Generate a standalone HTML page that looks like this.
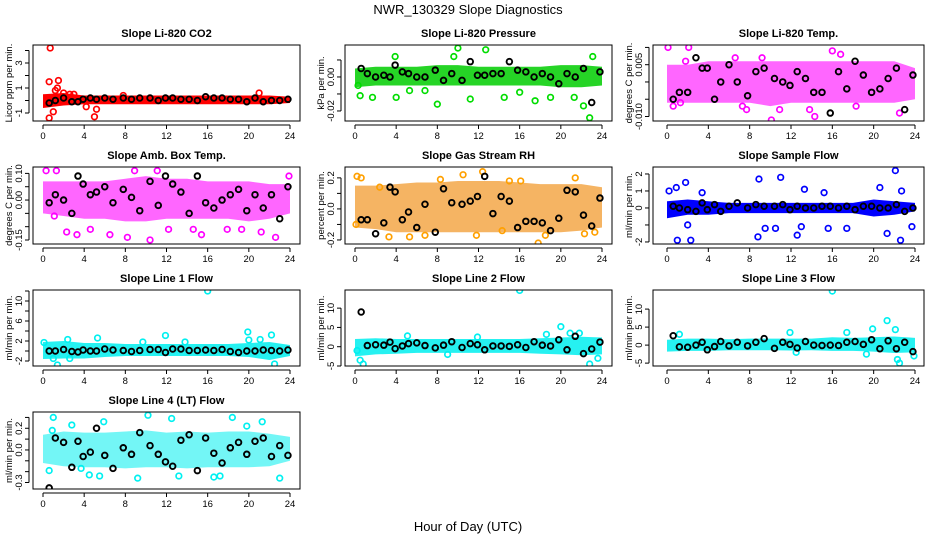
<!DOCTYPE html>
<html><head><meta charset="utf-8">
<style>
html,body{margin:0;padding:0;background:#fff;}
svg{display:block;font-family:"Liberation Sans",sans-serif;}
</style></head>
<body>
<svg id="chart" width="936" height="540" viewBox="0 0 936 540">
<rect width="936" height="540" fill="#fff"/>
<text x="468" y="14" text-anchor="middle" font-size="13">NWR_130329  Slope Diagnostics</text>
<text x="468" y="531" text-anchor="middle" font-size="13">Hour of Day (UTC)</text>
</svg>
<script>
// ---- shared data ----
const bandHours = [0,2,4,6,8,10,12,14,16,18,20,22,24];
const blackHours = [0.6,1.2,2,2.8,3.4,3.9,4.6,5.2,6,6.8,7.8,8.6,9.4,10.4,11.2,11.9,12.6,13.4,14.2,15,15.8,16.6,17.4,18.2,19,19.8,20.6,21.4,22.2,23,23.8];
const xTicks = [0,4,8,12,16,20,24];

// P1 CO2
const p1Lo = [-0.6,-0.4,-0.3,-0.3,-0.3,-0.3,-0.3,-0.3,-0.3,-0.3,-0.3,-0.3,-0.2];
const p1Hi = [0.5,0.6,0.4,0.4,0.4,0.4,0.4,0.4,0.4,0.4,0.4,0.4,0.3];
const p1OutX = [0.7,0.6,1.5,1.4,0.6,5.0,1.0,2.0,5.2,3.0,21.0,7.8,1.2,2.6,4.2];
const p1OutY = [4.2,1.5,1.6,1.0,-1.4,-1.3,-0.9,0.6,-0.7,0.5,0.6,0.4,0.8,0.5,-0.5];
const p1Black = [-0.2,0.0,0.2,-0.1,-0.1,0.1,0.2,0.1,0.2,0.1,0.2,0.1,0.2,0.2,0.0,0.2,0.2,0.1,0.1,0.0,0.3,0.2,0.2,0.1,0.1,-0.1,0.2,-0.1,0.0,0.0,0.1];
// P2 Pressure
const p2Lo = [-0.006,-0.005,-0.005,-0.005,-0.005,-0.005,-0.005,-0.005,-0.005,-0.005,-0.006,-0.006,-0.005];
const p2Hi = [0.005,0.006,0.006,0.006,0.007,0.007,0.006,0.006,0.006,0.006,0.007,0.007,0.006];
const p2OutX = [0.3,0.5,1.7,3.9,4.0,5.3,6.8,8.0,10.0,11.2,12.7,14.5,16.0,17.5,19.0,21.3,22.2,22.8,23.1,9.6];
const p2OutY = [-0.005,-0.011,-0.012,0.012,-0.012,-0.008,-0.008,-0.016,0.017,-0.013,0.016,-0.012,-0.009,-0.014,-0.012,-0.012,-0.017,-0.024,0.012,0.012];
const p2Black = [0.005,0.002,0.000,0.001,0.000,0.007,0.003,0.002,0.000,0.000,0.004,-0.002,0.002,-0.002,0.009,0.001,0.001,0.002,0.002,0.009,0.004,0.003,0.000,0.002,0.000,-0.004,0.002,0.000,0.005,-0.015,0.003];
// P3 Li-820 Temp
const p3Lo = [-0.006,-0.006,-0.006,-0.006,-0.006,-0.007,-0.006,-0.006,-0.006,-0.006,-0.006,-0.006,-0.005];
const p3Hi = [0.005,0.005,0.006,0.006,0.006,0.006,0.006,0.006,0.006,0.006,0.006,0.006,0.004];
const p3OutX = [0.1,0.6,2.1,1.3,7.3,7.7,10.1,10.9,13.8,14.3,16.0,16.8,18.3,22.5,1.8,9.2,6.6];
const p3OutY = [0.010,-0.007,0.010,-0.006,-0.007,-0.008,-0.011,-0.008,-0.008,-0.010,0.009,0.008,-0.007,-0.009,0.006,0.007,0.007];
const p3Black = [-0.005,-0.003,-0.003,0.007,0.004,0.004,-0.005,0.000,0.005,0.000,-0.004,0.003,0.004,0.001,0.000,-0.001,0.003,0.001,-0.003,-0.003,-0.009,0.003,-0.002,0.006,0.002,-0.003,-0.002,0.001,0.004,-0.008,0.002];
// P4 Amb Box Temp
const p4Lo = [-0.05,-0.06,-0.07,-0.07,-0.08,-0.08,-0.07,-0.07,-0.07,-0.07,-0.08,-0.07,-0.05];
const p4Hi = [0.07,0.07,0.07,0.07,0.08,0.09,0.08,0.08,0.07,0.07,0.07,0.06,0.06];
const p4OutX = [0.3,1.3,2.3,3.3,4.6,6.5,8.2,10.4,12.2,14.6,15.4,17.9,19.3,21.2,22.0,22.6,23.9,8.9,11.1,1.1];
const p4OutY = [0.11,0.11,-0.12,-0.13,-0.11,-0.13,-0.14,-0.15,-0.11,-0.11,-0.13,-0.11,-0.11,-0.12,-0.18,-0.14,0.09,0.11,0.11,-0.06];
const p4Black = [-0.01,0.02,0.00,-0.05,0.09,0.06,0.02,0.03,0.05,-0.01,0.04,0.01,-0.04,0.07,-0.02,0.09,0.06,0.03,-0.05,0.09,-0.01,-0.03,0.00,0.02,0.04,-0.04,0.02,-0.03,0.02,-0.07,0.05];
// P5 Gas stream RH
const p5Lo = [-0.12,-0.13,-0.15,-0.15,-0.15,-0.15,-0.15,-0.15,-0.15,-0.15,-0.15,-0.14,-0.12];
const p5Hi = [0.15,0.15,0.16,0.17,0.17,0.18,0.18,0.18,0.17,0.16,0.16,0.16,0.14];
const p5OutX = [0.2,0.6,3.3,5.3,6.8,8.3,10.5,11.8,12.4,14.3,15.0,16.1,17.8,18.5,21.4,22.3,23.3,0.1,2.4];
const p5OutY = [0.21,0.20,-0.18,-0.18,-0.17,0.19,0.22,-0.17,0.24,-0.14,0.18,0.18,-0.22,-0.17,0.20,-0.16,-0.15,-0.10,0.14];
const p5Black = [-0.07,-0.07,-0.16,-0.09,0.14,0.11,-0.07,-0.02,-0.12,0.03,-0.15,0.13,0.04,0.03,0.05,0.08,0.21,-0.03,0.08,0.05,-0.12,-0.08,-0.08,-0.09,-0.14,-0.06,0.12,0.11,-0.04,-0.11,0.07];
// P6 Sample flow
const p6Lo = [-0.6,-0.4,-0.4,-0.3,-0.3,-0.3,-0.3,-0.3,-0.3,-0.3,-0.5,-0.4,-0.2];
const p6Hi = [0.4,0.5,0.4,0.3,0.3,0.3,0.3,0.3,0.3,0.3,0.5,0.4,0.3];
const p6OutX = [0.2,1.0,2.3,1.8,2.0,3.4,8.9,8.8,10.5,11.0,12.6,13.3,13.0,15.2,15.6,17.4,20.6,21.3,22.1,22.6,22.7,23.7,0.9,9.5];
const p6OutY = [1.0,-1.9,-1.9,1.5,-1.0,0.9,1.7,-1.7,-1.2,1.8,-1.6,1.1,-1.1,0.9,-1.2,-1.2,1.2,-1.5,2.2,-1.9,1.0,-1.1,1.2,-1.2];
const p6Black = [0.1,0.0,-0.1,-0.2,0.3,-0.1,0.2,-0.2,0.1,0.3,0.0,0.2,0.1,0.1,0.2,-0.1,0.1,0.0,0.0,0.1,0.1,0.0,0.1,-0.1,0.1,0.1,0.0,0.0,0.2,-0.2,0.0];
// P7 Line 1 flow
const p7Lo = [-1.6,-1.5,-1.5,-1.2,-1.0,-1.0,-1.0,-1.0,-1.0,-1.0,-1.2,-1.8,-1.0];
const p7Hi = [1.8,2.0,1.6,1.6,1.4,1.4,1.4,1.4,1.4,1.4,1.6,1.8,1.2];
const p7OutX = [1.4,1.0,2.4,2.6,5.3,11.9,13.8,16.0,19.9,20.0,21.1,22.2,22.5,0.1,9.7];
const p7OutY = [-2.8,-1.5,2.3,-1.5,2.6,3.1,1.8,12.0,3.8,2.2,2.3,3.2,-2.6,1.7,1.8];
const p7Black = [0.0,0.0,0.3,-0.1,-0.2,0.2,0.0,0.0,0.4,0.2,0.1,-0.1,0.1,0.3,0.3,-0.3,0.4,0.4,0.1,0.1,0.2,0.1,0.3,-0.1,-0.3,0.0,0.0,0.2,0.1,0.0,0.2];
// P8 Line 2 flow
const p8Lo = [-2.5,-2.0,-1.8,-1.6,-1.6,-1.6,-1.6,-1.6,-1.6,-1.8,-2.0,-2.2,-2.0];
const p8Hi = [2.0,2.2,2.0,2.0,2.0,2.0,2.0,2.0,2.0,2.2,2.4,2.6,2.4];
const p8OutX = [0.5,0.8,5.1,11.9,16.0,18.6,20.0,20.9,21.8,22.8,23.6,0.2,9.0];
const p8OutY = [-3.5,-4.5,2.8,2.5,14.6,3.2,5.2,3.5,3.5,-4.5,-3.0,-1.0,-2.0];
const p8Black = [9.0,0.3,0.5,0.4,1.2,-0.5,0.2,0.8,1.0,0.3,-0.3,0.4,1.3,-0.2,0.8,0.5,-0.8,0.2,0.2,0.1,0.5,-0.2,1.3,0.4,0.2,1.8,-0.8,2.7,-1.8,-0.6,1.2];
// P9 Line 3 flow
const p9Lo = [-1.8,-1.6,-1.6,-1.4,-1.4,-1.4,-1.5,-1.4,-1.6,-1.6,-1.8,-2.2,-2.0];
const p9Hi = [1.5,1.8,1.8,1.6,1.8,1.8,1.8,1.8,2.2,2.0,2.2,2.4,2.0];
const p9OutX = [1.2,11.9,16.0,17.4,19.9,21.3,22.1,22.3,22.5,23.9,19.3,12.5];
const p9OutY = [3.0,3.5,15.0,3.5,4.5,6.8,4.3,-4.0,-5.0,-3.0,-2.5,-2.0];
const p9Black = [2.6,-0.5,-0.6,0.0,0.8,-1.3,-0.4,1.0,-0.2,0.8,-0.2,0.8,1.8,-0.9,0.8,0.2,-0.8,1.0,0.0,-0.1,0.0,-0.1,0.8,1.0,0.2,1.5,-1.0,1.2,-1.0,0.8,-1.8];
// P10 Line 4 flow
const p10Lo = [-0.12,-0.15,-0.16,-0.16,-0.17,-0.16,-0.16,-0.17,-0.16,-0.16,-0.16,-0.15,-0.10];
const p10Hi = [0.14,0.17,0.16,0.16,0.17,0.18,0.16,0.17,0.16,0.17,0.17,0.15,0.12];
const p10OutX = [0.6,1.0,2.8,4.5,5.5,5.9,9.2,10.2,12.5,13.2,16.6,17.2,18.4,19.8,21.3,23.0,0.9,3.7];
const p10OutY = [-0.19,0.30,0.23,-0.23,-0.24,0.26,-0.26,0.32,0.29,-0.24,-0.25,-0.24,0.30,0.22,0.26,-0.26,0.18,-0.17];
const p10Black = [-0.35,0.11,0.07,-0.16,0.08,-0.06,-0.02,0.20,-0.05,-0.17,0.02,-0.04,0.16,0.04,-0.04,-0.11,-0.15,0.09,0.14,-0.19,0.11,-0.03,-0.12,0.02,0.07,-0.04,0.08,0.11,-0.06,0.04,-0.05];

// ---- panel definitions ----
const panels = [
 {name:"co2",title:"Slope Li-820 CO2",ylab:"Licor ppm per min.",box:[33,45,300,121],x0:43,x24:290,ymin:-1.64,ymax:4.44,
  ticks:[-1,0,1,2,3,4],labels:["-1","","1","","3",""],lo:p1Lo,hi:p1Hi,ox:p1OutX,oy:p1OutY,bk:p1Black,col:"#ff0000",fill:"#ff0000"},
 {name:"pressure",title:"Slope Li-820 Pressure",ylab:"kPa per min.",box:[345,45,612,121],x0:355,x24:602,ymin:-0.0259,ymax:0.0188,
  ticks:[-0.02,-0.01,0,0.01],labels:["-0.02","","0.00",""],lo:p2Lo,hi:p2Hi,ox:p2OutX,oy:p2OutY,bk:p2Black,col:"#00dd00",fill:"#00cc00",op:0.85},
 {name:"li820-temp",title:"Slope Li-820 Temp.",ylab:"degrees C per min.",box:[653,45,924,121],x0:667,x24:915,ymin:-0.0113,ymax:0.0107,
  ticks:[-0.01,-0.005,0,0.005,0.01],labels:["-0.010","","","0.005",""],lo:p3Lo,hi:p3Hi,ox:p3OutX,oy:p3OutY,bk:p3Black,col:"#ff00ff",fill:"#ff00ff",op:0.6},
 {name:"amb-box-temp",title:"Slope Amb. Box Temp.",ylab:"degrees C per min.",box:[33,167,300,244],x0:43,x24:290,ymin:-0.165,ymax:0.124,
  ticks:[-0.15,-0.1,-0.05,0,0.05,0.1],labels:["-0.15","","","0.00","","0.10"],lo:p4Lo,hi:p4Hi,ox:p4OutX,oy:p4OutY,bk:p4Black,col:"#ff00ff",fill:"#ff00ff",op:0.6},
 {name:"gas-stream-rh",title:"Slope Gas Stream RH",ylab:"percent per min.",box:[345,167,612,244],x0:355,x24:602,ymin:-0.226,ymax:0.27,
  ticks:[-0.2,-0.1,0,0.1,0.2],labels:["-0.2","","0.0","","0.2"],lo:p5Lo,hi:p5Hi,ox:p5OutX,oy:p5OutY,bk:p5Black,col:"#ffa000",fill:"#f08c10",op:0.65},
 {name:"sample-flow",title:"Slope Sample Flow",ylab:"ml/min per min.",box:[653,167,924,244],x0:667,x24:915,ymin:-2.12,ymax:2.41,
  ticks:[-2,-1,0,1,2],labels:["-2","","0","1","2"],lo:p6Lo,hi:p6Hi,ox:p6OutX,oy:p6OutY,bk:p6Black,col:"#0000ff",fill:"#0000ff"},
 {name:"line1-flow",title:"Slope Line 1 Flow",ylab:"ml/min per min.",box:[33,290,300,366],x0:43,x24:290,ymin:-3,ymax:12.2,
  ticks:[-2,0,2,4,6,8,10,12],labels:["-2","","2","","6","","10",""],lo:p7Lo,hi:p7Hi,ox:p7OutX,oy:p7OutY,bk:p7Black,col:"#00f0f0",fill:"#00eeee",op:0.85},
 {name:"line2-flow",title:"Slope Line 2 Flow",ylab:"ml/min per min.",box:[345,290,612,366],x0:355,x24:602,ymin:-5,ymax:14.7,
  ticks:[-5,0,5,10],labels:["-5","0","5","10"],lo:p8Lo,hi:p8Hi,ox:p8OutX,oy:p8OutY,bk:p8Black,col:"#00f0f0",fill:"#00eeee",op:0.85},
 {name:"line3-flow",title:"Slope Line 3 Flow",ylab:"ml/min per min.",box:[653,290,924,366],x0:667,x24:915,ymin:-5.8,ymax:15.3,
  ticks:[-5,0,5,10],labels:["-5","0","5","10"],lo:p9Lo,hi:p9Hi,ox:p9OutX,oy:p9OutY,bk:p9Black,col:"#00f0f0",fill:"#00eeee",op:0.85},
 {name:"line4-flow",title:"Slope Line 4 (LT) Flow",ylab:"ml/min per min.",box:[33,412,300,489],x0:43,x24:290,ymin:-0.36,ymax:0.35,
  ticks:[-0.3,-0.2,-0.1,0,0.1,0.2,0.3],labels:["-0.3","","","0.0","","0.2",""],lo:p10Lo,hi:p10Hi,ox:p10OutX,oy:p10OutY,bk:p10Black,col:"#00f0f0",fill:"#00eeee",op:0.55}
];

const NS="http://www.w3.org/2000/svg";
const svg=document.getElementById('chart');
function mk(tag,attrs,parent){const e=document.createElementNS(NS,tag);for(const k in attrs)e.setAttribute(k,attrs[k]);(parent||svg).appendChild(e);return e;}

panels.forEach(p=>{
  const [L,T,R,B]=p.box;
  const sx=h=>p.x0+(p.x24-p.x0)*h/24;
  const sy=v=>B-(v-p.ymin)/(p.ymax-p.ymin)*(B-T);
  const g=mk('g',{});
  
  
  const clipId='clip-'+p.name;
  const cp=mk('clipPath',{id:clipId},g);mk('rect',{x:L,y:T,width:R-L,height:B-T},cp);
  const t=mk('text',{x:(L+R)/2,y:T-8,'text-anchor':'middle','font-size':11,'font-weight':'bold'},g);t.textContent=p.title;
  
  
  const plot=mk('g',{'clip-path':'url(#'+clipId+')'},g);
  let d='';
  bandHours.forEach((h,i)=>{d+=(i?'L':'M')+sx(h).toFixed(1)+','+sy(p.hi[i]).toFixed(1);});
  for(let i=bandHours.length-1;i>=0;i--)d+='L'+sx(bandHours[i]).toFixed(1)+','+sy(p.lo[i]).toFixed(1);
  const band=mk('path',{d:d+'Z',fill:p.fill,opacity:p.op||1},plot);
  
  
  p.ox.forEach((h,i)=>{
    const c=mk('circle',{cx:sx(h),cy:sy(p.oy[i]),r:2.8,fill:'none',stroke:p.col,'stroke-width':1.7},plot);
    
    
  });
  blackHours.forEach((h,i)=>{
    const c=mk('circle',{cx:sx(h),cy:sy(p.bk[i]),r:2.8,fill:'none',stroke:'#000','stroke-width':1.9},plot);
    
    
  });
  const frame=mk('rect',{x:L,y:T,width:R-L,height:B-T,fill:'none',stroke:'#000','stroke-width':1},g);
  
  
  const xa=mk('g',{},g);
  
  
  mk('line',{x1:sx(0),x2:sx(24),y1:B+4,y2:B+4,stroke:'#000'},xa);
  xTicks.forEach(v=>{
    mk('line',{x1:sx(v),x2:sx(v),y1:B+4,y2:B+8,stroke:'#000'},xa);
    const tx=mk('text',{x:sx(v),y:B+18,'text-anchor':'middle','font-size':9.5},xa);tx.textContent=v;
  });
  const ya=mk('g',{},g);
  
  
  const ax=L-4;
  mk('line',{x1:ax,x2:ax,y1:sy(p.ticks[0]),y2:sy(p.ticks[p.ticks.length-1]),stroke:'#000'},ya);
  p.ticks.forEach((v,i)=>{
    const y=sy(v);
    mk('line',{x1:ax-4,x2:ax,y1:y,y2:y,stroke:'#000'},ya);
    if(p.labels[i]){const ty=mk('text',{x:0,y:0,'text-anchor':'middle','font-size':9.5,transform:'translate('+(ax-7)+','+y+') rotate(-90)'},ya);ty.textContent=p.labels[i];}
  });
  const yl=mk('text',{x:0,y:0,'text-anchor':'middle','font-size':9.5,transform:'translate('+(L-21)+','+((T+B)/2)+') rotate(-90)'},g);
  yl.textContent=p.ylab;
  
  
});
</script>
</body></html>
